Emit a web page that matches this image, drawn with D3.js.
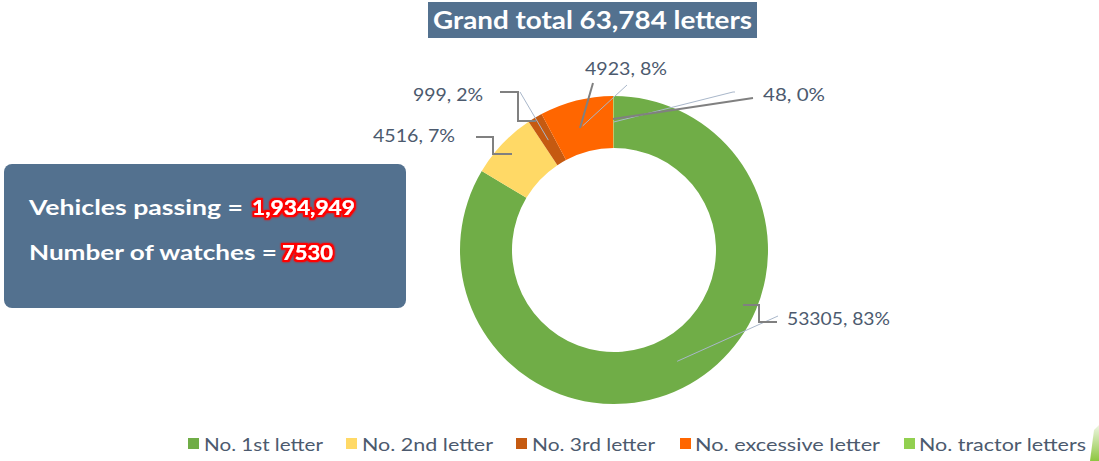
<!DOCTYPE html>
<html><head><meta charset="utf-8">
<script src="https://cdn.jsdelivr.net/npm/d3@7"></script>
<style>body{margin:0;background:#fff;} svg{display:block;font-family:"Lato","Open Sans",sans-serif;}</style>
</head><body>
<svg id="chart" width="1099" height="461"></svg>
<script>
// ---- data ----
const categories = ["No. 1st letter","No. 2nd letter","No. 3rd letter","No. excessive letter","No. tractor letters"];
const values = [53305, 4516, 999, 4923, 48];
const percents = [83, 7, 2, 8, 0];
const colors = ["#70AD47","#FFD966","#C55A11","#FF6600","#92D050"];
const titleText = "Grand total 63,784 letters";
const infoLabels = ["Vehicles passing =", "Number of watches ="];
const infoValues = ["1,934,949", "7530"];

// ---- layout ----
const W = 1099, H = 461;
const cx = 614, cy = 250, rOuter = 154, rInner = 102;
// label positions (text start, baseline) relative to donut centre, and widths
const labelLayout = [
  {dx: 173, dy: 75, w: 103},
  {dx: -241, dy: -108, w: 82},
  {dx: -201, dy: -149, w: 70},
  {dx: -29, dy: -175, w: 82},
  {dx: 149, dy: -149, w: 62}
];
// thin connector end points relative to centre (null = none)
const thinEnds = [
  [[164,66]],
  null,
  [[-94,-158]],
  [[13,-165]],
  [[121,-158],[119,-158]]
];
// grey elbow leader lines relative to centre
const elbows = [
  [[129,55],[145,55],[145,72],[163,72]],
  [[-138,-113],[-121,-113],[-121,-96],[-102,-96]],
  [[-114,-158],[-96,-158],[-96,-129],[-78,-129]],
  [[-21,-167],[-34,-122]],
  [[139,-152],[-1,-131]]
];
const legendLayout = [
  {sx: 188, tx: 204, w: 119},
  {sx: 346, tx: 362, w: 131},
  {sx: 516, tx: 532, w: 123},
  {sx: 680, tx: 695, w: 185},
  {sx: 904, tx: 919, w: 167}
];

const svg = d3.select("#chart");
const defs = svg.append("defs");
const f = defs.append("filter").attr("id","glow").attr("x","-20%").attr("y","-50%").attr("width","140%").attr("height","200%");
f.append("feMorphology").attr("in","SourceAlpha").attr("operator","dilate").attr("radius",1.6).attr("result","d");
f.append("feFlood").attr("flood-color","#ff0000");
f.append("feComposite").attr("in2","d").attr("operator","in").attr("result","red");
f.append("feGaussianBlur").attr("in","red").attr("stdDeviation",1.3).attr("result","blur");
const m = f.append("feMerge");
m.append("feMergeNode").attr("in","blur");
m.append("feMergeNode").attr("in","red");
m.append("feMergeNode").attr("in","SourceGraphic");

const slate = "#53718F";
const textCol = "#4C5A6E";

// title
svg.append("rect").attr("x",428).attr("y",2).attr("width",329).attr("height",36).attr("fill",slate);
svg.append("text").attr("x",433).attr("y",29).attr("fill","#fff").attr("font-weight","bold")
  .attr("font-size",24).attr("textLength",319).attr("lengthAdjust","spacingAndGlyphs").text(titleText);

// info box
svg.append("rect").attr("x",4).attr("y",164).attr("width",402).attr("height",144).attr("rx",8).attr("fill",slate);
const infoRows = [{y:215, lw:214, vx:252, vw:103},{y:260, lw:248, vx:282, vw:51}];
infoRows.forEach((r,i)=>{
  svg.append("text").attr("x",29).attr("y",r.y).attr("fill","#fff").attr("font-weight","bold").attr("font-size",20)
    .attr("textLength",r.lw).attr("lengthAdjust","spacingAndGlyphs").text(infoLabels[i]);
  svg.append("text").attr("x",r.vx).attr("y",r.y).attr("fill","#fff").attr("font-weight","bold").attr("font-size",20)
    .attr("textLength",r.vw).attr("lengthAdjust","spacingAndGlyphs").attr("filter","url(#glow)").text(infoValues[i]);
});

// donut
const pie = d3.pie().sort(null).value(d=>d).startAngle(0).endAngle(2*Math.PI);
const arcs = pie(values);
const arc = d3.arc().innerRadius(rInner).outerRadius(rOuter);
const g = svg.append("g").attr("transform",`translate(${cx},${cy})`);
g.selectAll("path.slice").data(arcs).join("path").attr("class","slice")
  .attr("d",arc).attr("fill",(d,i)=>colors[i]);

// thin connectors from centroid
const line = d3.line();
arcs.forEach((a,i)=>{
  if(!thinEnds[i]) return;
  const c = arc.centroid(a);
  const pts = [c].concat(thinEnds[i].slice().reverse());
  g.append("path").attr("d",line(pts)).attr("fill","none").attr("stroke","#A9B7CA").attr("stroke-width",1);
});
// grey elbows
elbows.forEach(pts=>{
  g.append("path").attr("d",line(pts)).attr("fill","none").attr("stroke","#808080").attr("stroke-width",2);
});
// labels
g.selectAll("text.lbl").data(arcs).join("text").attr("class","lbl")
  .attr("x",(d,i)=>labelLayout[i].dx).attr("y",(d,i)=>labelLayout[i].dy)
  .attr("fill",textCol).attr("font-size",18)
  .attr("textLength",(d,i)=>labelLayout[i].w).attr("lengthAdjust","spacingAndGlyphs")
  .text((d,i)=>`${values[i]}, ${percents[i]}%`);

// legend
const lg = svg.append("g");
categories.forEach((c,i)=>{
  const L = legendLayout[i];
  lg.append("rect").attr("x",L.sx).attr("y",438).attr("width",11).attr("height",11).attr("fill",colors[i]);
  lg.append("text").attr("x",L.tx).attr("y",451).attr("fill",textCol).attr("font-size",18)
    .attr("textLength",L.w).attr("lengthAdjust","spacingAndGlyphs").text(c);
});

// decorative corner sliver
const grad = defs.append("linearGradient").attr("id","cg").attr("x1",0).attr("y1",0).attr("x2",0).attr("y2",1);
grad.append("stop").attr("offset","0%").attr("stop-color","#EEF6E2");
grad.append("stop").attr("offset","100%").attr("stop-color","#8DC63F");
svg.append("path").attr("d","M1099,425 L1094,430 L1090,461 L1099,461 Z").attr("fill","url(#cg)");
</script>
</body></html>
